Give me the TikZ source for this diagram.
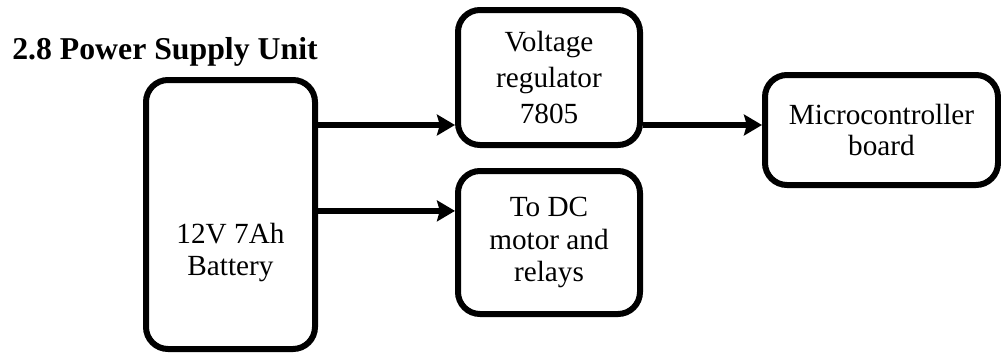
\documentclass[tikz,border=0pt]{standalone}
\usepackage{fontspec}
\setmainfont{Liberation Serif}
\usepackage{tikz}
\usetikzlibrary{positioning, arrows.meta}

\begin{document}
\begin{tikzpicture}[
    pnode/.style={draw, line width=0.15cm, rounded corners=0.55cm, align=center, inner sep=0pt, font=\fontsize{20.8}{23}\selectfont},
    feed/.style={line width=0.15cm, -{Stealth[length=0.45cm, width=0.52cm, inset=0.07cm]}}
]
\useasboundingbox (0, 0) rectangle (25.025, -8.85);
\node[anchor=base west, inner sep=0pt, font=\bfseries\fontsize{22.6}{27}\selectfont] (title) at (0.3, -1.475) {2.8 Power Supply Unit};

\node[pnode, minimum width=4.225cm, minimum height=6.725cm] (battery) at (5.7625, -5.3625) {};
\node[align=center, inner sep=0pt, font=\fontsize{20.8}{23}\selectfont] (battxt) at ([yshift=-0.95cm]battery.center) {12V 7Ah\\Battery};
\node[pnode, minimum width=4.55cm, minimum height=3.375cm, font=\fontsize{20.8}{25.6}\selectfont] (volt) at (13.725, -1.9375) {Voltage\\regulator\\7805};
\node[pnode, minimum width=4.55cm, minimum height=3.575cm] (dc) at (13.725, -6.0625) {To DC\\motor and\\relays};
\node[pnode, minimum width=5.825cm, minimum height=2.75cm, font=\fontsize{20.8}{21.5}\selectfont] (micro) at (22.0375, -3.25) {Microcontroller\\board};

\coordinate (vin) at ([yshift=-1.1875cm]volt.west);
\coordinate (din) at ([yshift=0.79cm]dc.west);
\coordinate (min) at ([yshift=0.125cm]micro.west);

\draw[feed] (battery.east |- vin) -- (vin);
\draw[feed] (battery.east |- din) -- (din);
\draw[feed] (volt.east |- min) -- (min);
\end{tikzpicture}
\end{document}
